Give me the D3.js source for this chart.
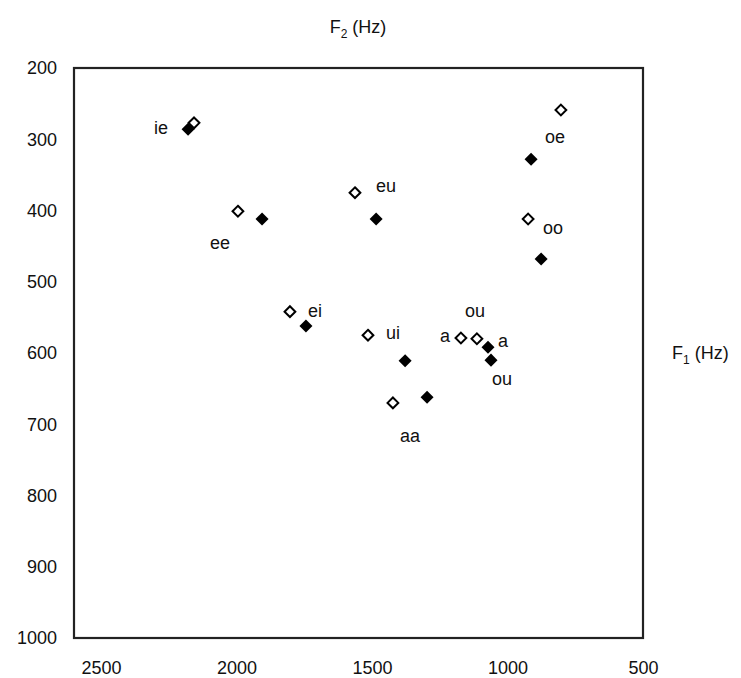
<!DOCTYPE html>
<html>
<head>
<meta charset="utf-8">
<script src="https://cdn.jsdelivr.net/npm/d3@7"></script>
<style>
  body { margin: 0; background: #fff; }
  text { font-family: "Liberation Sans", Arial, sans-serif; fill: #111; }
</style>
</head>
<body>
<script>
var vowels = ["ie", "ee", "eu", "oe", "oo", "ei", "ui", "aa", "a", "ou"];
var openF2 = [2157, 1995, 1563, 803, 924, 1803, 1515, 1423, 1172, 1113];
var openF1 = [277, 401, 375, 259, 412, 542, 575, 670, 579, 580];
var filledF2 = [2179, 1906, 1485, 913, 876, 1744, 1378, 1297, 1072, 1061];
var filledF1 = [286, 412, 412, 328, 468, 562, 611, 662, 592, 610];
var xTicks = [2500, 2000, 1500, 1000, 500];
var yTicks = [200, 300, 400, 500, 600, 700, 800, 900, 1000];

// which point each label belongs to, and where the text sits relative to it
var labelSpec = [
  {v: "ie", s: "filled", dx: -27, dy: -2},
  {v: "ee", s: "open", dx: -18, dy: 31},
  {v: "eu", s: "open", dx: 31, dy: -7},
  {v: "oe", s: "open", dx: -6, dy: 27},
  {v: "oo", s: "open", dx: 25, dy: 9},
  {v: "ei", s: "open", dx: 25, dy: -1},
  {v: "ui", s: "open", dx: 25, dy: -2},
  {v: "aa", s: "open", dx: 17, dy: 33},
  {v: "a", s: "open", dx: -16, dy: -2},
  {v: "ou", s: "open", dx: -2, dy: -28},
  {v: "a", s: "filled", dx: 15, dy: -7},
  {v: "ou", s: "filled", dx: 11, dy: 19}
];

function main() {
  var svg = d3.select("body").append("svg")
    .attr("width", 741)
    .attr("height", 678);

  var left = 74, right = 643, top = 68, bottom = 638;

  var x = d3.scaleLinear().domain([2600, 500]).range([left, right]);
  var y = d3.scaleLinear().domain([200, 1000]).range([top, bottom]);

  var yAxis = d3.axisLeft(y).tickValues(yTicks).tickSize(0).tickPadding(17)
    .tickFormat(d3.format("d"));
  var gy = svg.append("g").attr("transform", "translate(" + left + ",0)").call(yAxis);
  gy.select(".domain").remove();

  var xAxis = d3.axisBottom(x).tickValues(xTicks).tickSize(0).tickPadding(23)
    .tickFormat(d3.format("d"));
  var gx = svg.append("g").attr("transform", "translate(0," + bottom + ")").call(xAxis);
  gx.select(".domain").remove();

  svg.selectAll(".tick text")
    .style("font-family", '"Liberation Sans", Arial, sans-serif')
    .style("font-size", "18px")
    .attr("fill", "#111");

  svg.append("rect")
    .attr("x", left).attr("y", top)
    .attr("width", right - left).attr("height", bottom - top)
    .attr("fill", "none")
    .attr("stroke", "#222")
    .attr("stroke-width", 2.2);

  axisTitle(svg, 358, 33, "2", "middle");
  axisTitle(svg, 672, 359, "1", "start");

  var openPts = vowels.map(function(v, i) { return {v: v, f2: openF2[i], f1: openF1[i]}; });
  var filledPts = vowels.map(function(v, i) { return {v: v, f2: filledF2[i], f1: filledF1[i]}; });

  var openSym = d3.symbol().type(d3.symbolDiamond2).size(74);
  var filledSym = d3.symbol().type(d3.symbolDiamond2).size(108);

  svg.append("g").selectAll("path")
    .data(filledPts)
    .enter()
    .append("path")
    .attr("d", filledSym)
    .attr("transform", function(d) { return "translate(" + x(d.f2) + "," + y(d.f1) + ")"; })
    .attr("fill", "#000");

  svg.append("g").selectAll("path")
    .data(openPts)
    .enter()
    .append("path")
    .attr("d", openSym)
    .attr("transform", function(d) { return "translate(" + x(d.f2) + "," + y(d.f1) + ")"; })
    .attr("fill", "#fff")
    .attr("stroke", "#000")
    .attr("stroke-width", 2);

  svg.append("g").selectAll("text")
    .data(labelSpec)
    .enter()
    .append("text")
    .attr("x", function(d) {
      var i = vowels.indexOf(d.v);
      return x(d.s == "open" ? openF2[i] : filledF2[i]) + d.dx;
    })
    .attr("y", function(d) {
      var i = vowels.indexOf(d.v);
      return y(d.s == "open" ? openF1[i] : filledF1[i]) + d.dy;
    })
    .attr("dy", "0.35em")
    .attr("text-anchor", "middle")
    .style("font-size", "18px")
    .text(function(d) { return d.v; });
}

function axisTitle(svg, px, py, sub, anchor) {
  var t = svg.append("text")
    .attr("x", px).attr("y", py)
    .attr("text-anchor", anchor)
    .style("font-size", "18px");
  t.append("tspan").text("F");
  t.append("tspan").attr("dy", 5).style("font-size", "12px").text(sub);
  t.append("tspan").attr("dy", -5).text(" (Hz)");
}

main();
</script>
</body>
</html>
